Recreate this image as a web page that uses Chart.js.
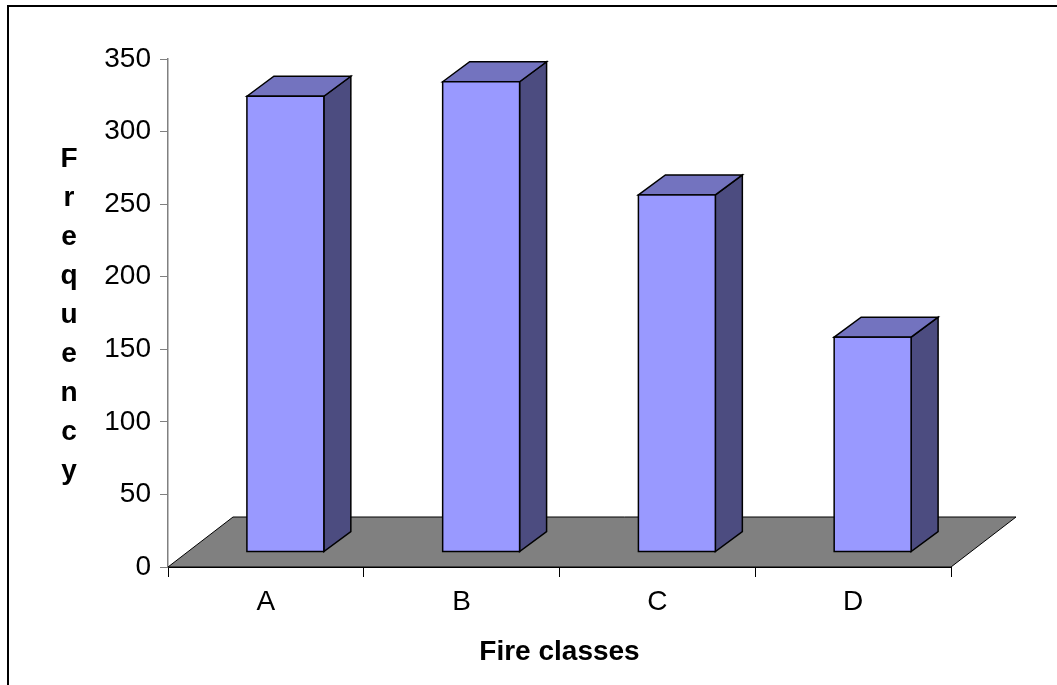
<!DOCTYPE html>
<html>
<head>
<meta charset="utf-8">
<script src="https://cdn.jsdelivr.net/npm/chart.js@4/dist/chart.umd.min.js"></script>
<style>
  html, body { margin: 0; padding: 0; background: #fff; overflow: hidden; }
  #frame {
    position: absolute; left: 7px; top: 5px;
    width: 1200px; height: 800px;
    border: 2px solid #000;
  }
  #wrap { position: absolute; left: 0; top: 0; width: 1057px; height: 685px; }
</style>
</head>
<body>
<div id="frame"></div>
<div id="wrap"><canvas id="chart" width="1057" height="685"></canvas></div>
<script>
const categories = ["A", "B", "C", "D"];
const frequency = [314, 324, 246, 148];
const yTicks = [0, 50, 100, 150, 200, 250, 300, 350];
const xTitle = "Fire classes";
const yTitle = "Frequency";

// 3D look
const FLOOR_DX = 65;
const FLOOR_DY = 50;
const BAR_FRONT = 0.3;   // where the bar's front face sits in the floor depth
const BAR_DX = 27;
const BAR_DY = 20;
const FRONT = "#9999ff";
const TOP = "#7373bf";
const SIDE = "#4c4c80";
const FONT = "'Liberation Sans', Arial, sans-serif";

const threeD = {
  id: "threeD",
  beforeDatasetsDraw(chart) {
    const ctx = chart.ctx;
    const xs = chart.scales.x;
    const y0 = chart.scales.y.getPixelForValue(0);
    ctx.save();
    ctx.beginPath();
    ctx.moveTo(xs.left, y0);
    ctx.lineTo(xs.right, y0);
    ctx.lineTo(xs.right + FLOOR_DX, y0 - FLOOR_DY);
    ctx.lineTo(xs.left + FLOOR_DX, y0 - FLOOR_DY);
    ctx.closePath();
    ctx.fillStyle = "#808080";
    ctx.fill();
    ctx.strokeStyle = "#000";
    ctx.lineWidth = 1;
    ctx.stroke();
    ctx.restore();
  },
  afterDatasetsDraw(chart) {
    const ctx = chart.ctx;
    const meta = chart.getDatasetMeta(0);
    ctx.save();
    ctx.lineWidth = 1.5;
    ctx.strokeStyle = "#000";
    ctx.lineJoin = "miter";
    meta.data.forEach((el) => {
      const l = el.x - el.width / 2 + BAR_FRONT * FLOOR_DX;
      const r = el.x + el.width / 2 + BAR_FRONT * FLOOR_DX;
      const t = el.y - BAR_FRONT * FLOOR_DY;
      const b = el.base - BAR_FRONT * FLOOR_DY;

      // side
      ctx.beginPath();
      ctx.moveTo(r, t);
      ctx.lineTo(r + BAR_DX, t - BAR_DY);
      ctx.lineTo(r + BAR_DX, b - BAR_DY);
      ctx.lineTo(r, b);
      ctx.closePath();
      ctx.fillStyle = SIDE;
      ctx.fill();
      ctx.stroke();

      // top
      ctx.beginPath();
      ctx.moveTo(l, t);
      ctx.lineTo(l + BAR_DX, t - BAR_DY);
      ctx.lineTo(r + BAR_DX, t - BAR_DY);
      ctx.lineTo(r, t);
      ctx.closePath();
      ctx.fillStyle = TOP;
      ctx.fill();
      ctx.stroke();

      // front
      ctx.fillStyle = FRONT;
      ctx.fillRect(l, t, r - l, b - t);
      ctx.strokeRect(l, t, r - l, b - t);
    });
    ctx.restore();
  },
  afterDraw(chart) {
    // y title, one letter per line
    const ctx = chart.ctx;
    ctx.save();
    ctx.font = "bold 28px " + FONT;
    ctx.fillStyle = "#000";
    ctx.textAlign = "center";
    ctx.textBaseline = "alphabetic";
    const letters = yTitle.split("");
    letters.forEach((ch, i) => {
      ctx.fillText(ch, 69, 167 + i * 39);
    });
    ctx.restore();
  }
};

new Chart(document.getElementById("chart"), {
  type: "bar",
  data: {
    labels: categories,
    datasets: [{
      data: frequency,
      backgroundColor: "rgba(0,0,0,0)",
      borderWidth: 0,
      categoryPercentage: 1,
      barPercentage: 0.393
    }]
  },
  options: {
    responsive: false,
    animation: false,
    layout: { padding: { top: 59, right: 106, bottom: 0, left: 0 } },
    plugins: {
      legend: { display: false },
      tooltip: { enabled: false }
    },
    scales: {
      x: {
        grid: {
          offset: true,
          drawOnChartArea: false,
          drawTicks: true,
          tickLength: 10,
          color: "#000"
        },
        border: { color: "#000", width: 1 },
        ticks: { color: "#000", font: { family: FONT, size: 28 }, padding: 8 },
        title: {
          display: true,
          text: xTitle,
          color: "#000",
          font: { family: FONT, size: 28, weight: "bold" },
          padding: { top: 4, bottom: 16 }
        },
        afterFit(scale) { scale.height = 118; }
      },
      y: {
        min: 0,
        max: 350,
        afterBuildTicks(scale) { scale.ticks = yTicks.map((v) => ({ value: v })); },
        grid: {
          drawOnChartArea: false,
          drawTicks: true,
          tickLength: 8,
          color: "#808080"
        },
        border: { color: "#808080", width: 1.5 },
        ticks: { color: "#000", font: { family: FONT, size: 28 }, padding: 9 },
        afterFit(scale) { scale.width = 168; }
      }
    }
  },
  plugins: [threeD]
});
</script>
</body>
</html>
